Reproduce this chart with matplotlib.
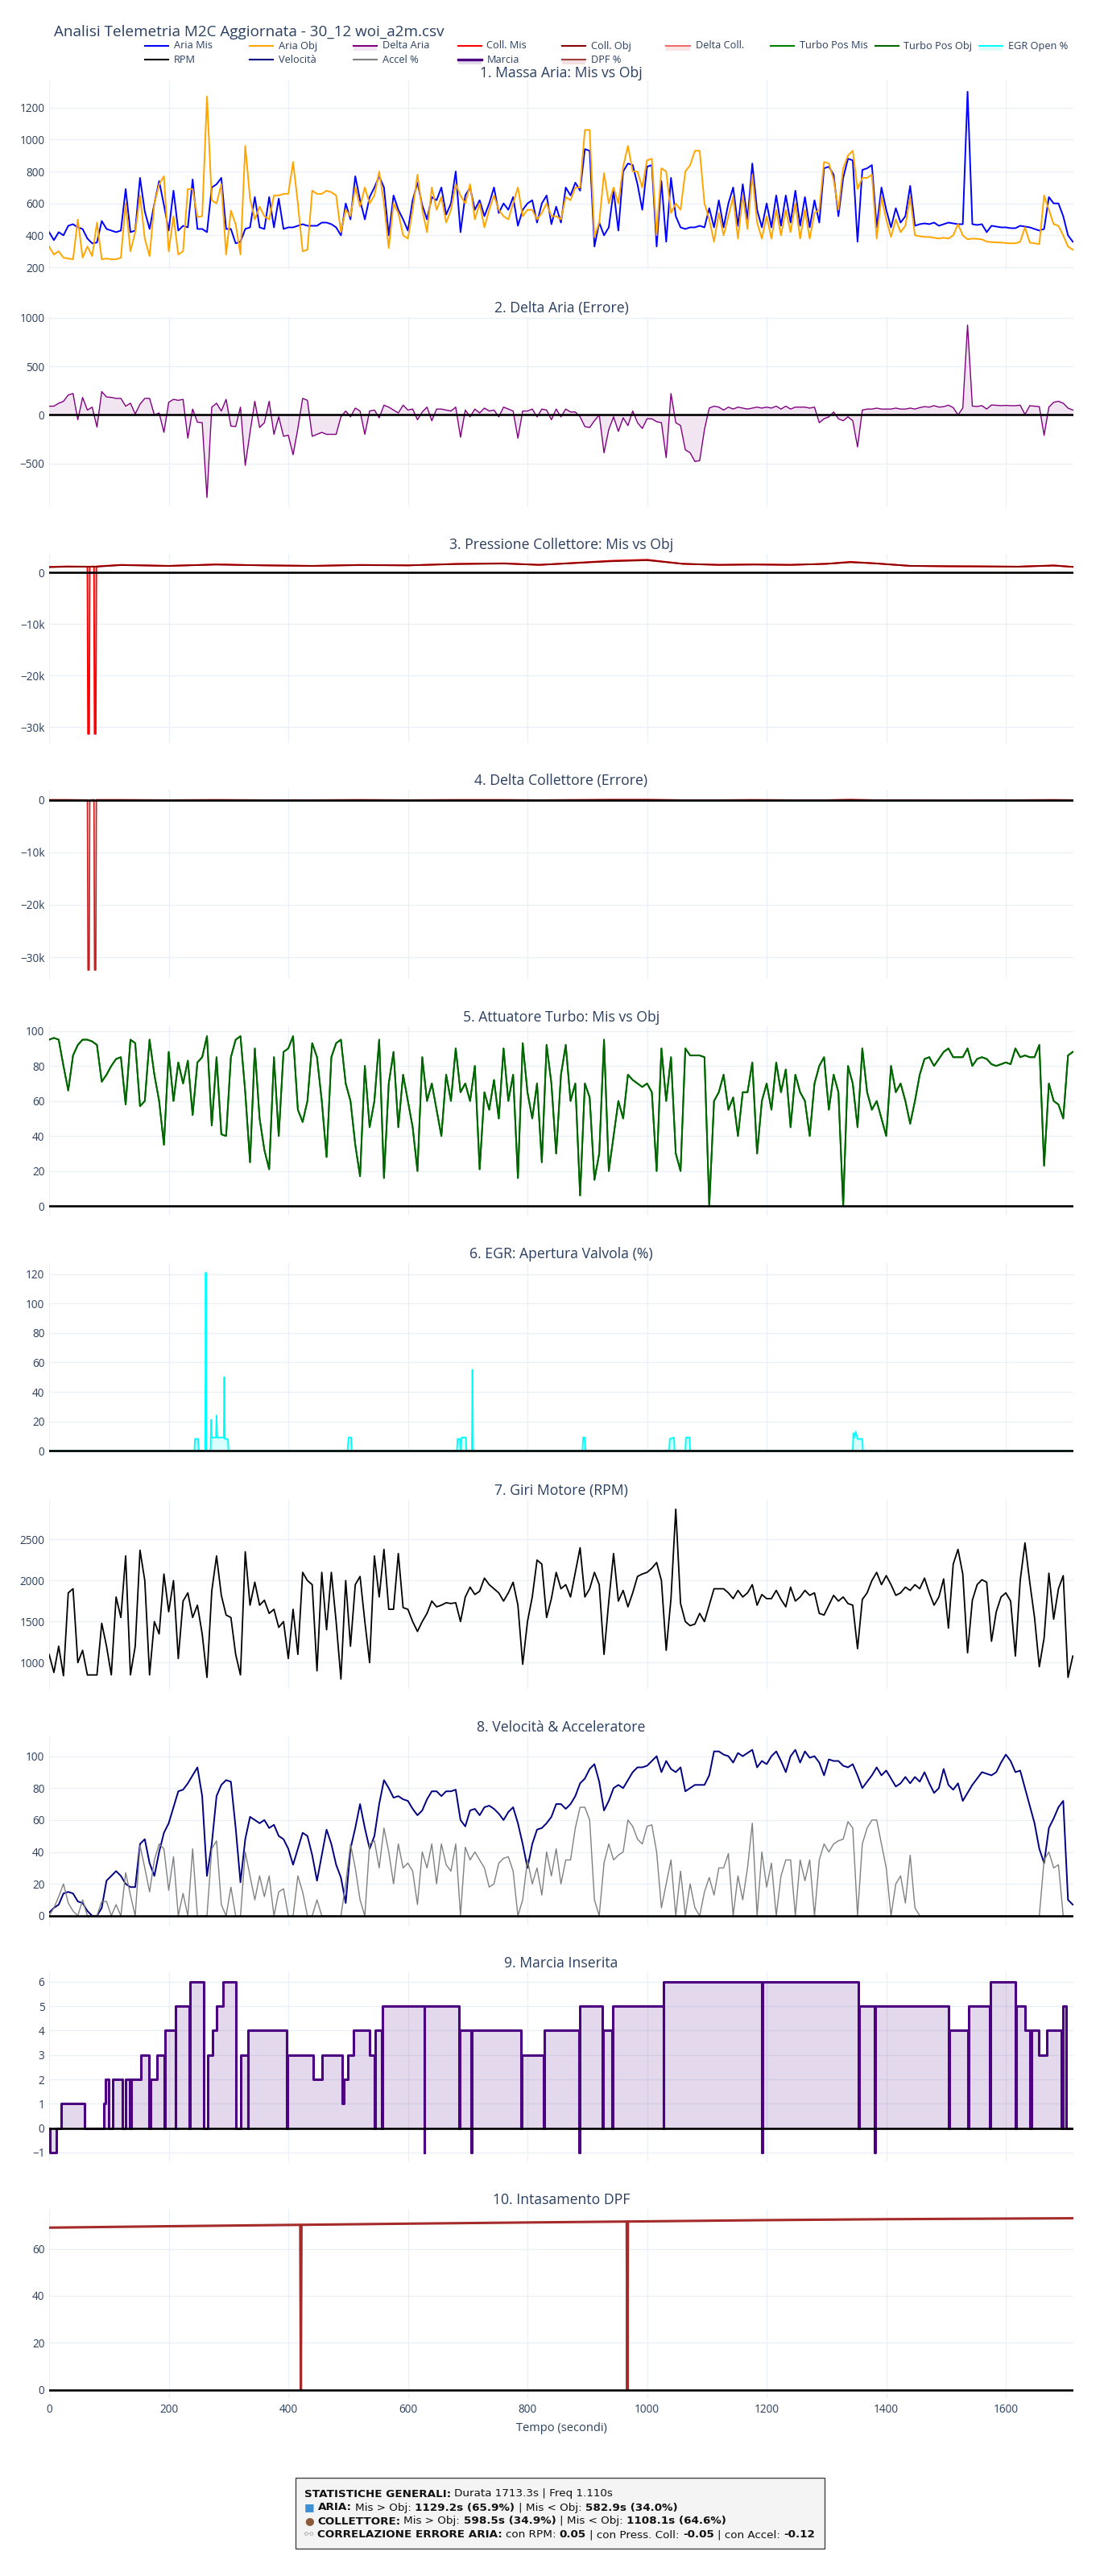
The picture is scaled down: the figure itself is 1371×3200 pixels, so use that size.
import numpy as np
import matplotlib
matplotlib.use("Agg")
import matplotlib.pyplot as plt
from matplotlib.lines import Line2D
from matplotlib.patches import Rectangle
from matplotlib.ticker import FuncFormatter, MultipleLocator, FixedLocator

# ---- dati (un campione ogni 8 s, righe da 200 s) ----
aria_mis = [
    420, 370, 420, 400, 460, 470, 450, 440, 380, 350, 355, 490, 440, 430, 420, 430, 690, 420, 430, 760, 550, 440, 600, 740, 590,
    430, 680, 430, 460, 450, 750, 440, 440, 420, 700, 720, 760, 440, 440, 350, 360, 440, 450, 640, 450, 440, 640, 450, 630, 440,
    450, 450, 460, 470, 460, 460, 460, 480, 480, 470, 450, 400, 600, 500, 770, 620, 500, 640, 700, 770, 700, 400, 650, 560, 500,
    430, 620, 730, 590, 500, 640, 620, 700, 530, 600, 800, 420, 650, 700, 560, 620, 520, 600, 700, 540, 600, 560, 640, 460, 560,
    600, 620, 480, 600, 650, 470, 580, 480, 700, 650, 730, 680, 940, 930, 330, 480, 400, 450, 680, 430, 800, 850, 840, 720, 560,
    830, 840, 330, 740, 360, 760, 520, 450, 440, 450, 450, 460, 450, 570, 450, 620, 450, 600, 700, 460, 720, 500, 850, 560, 450,
    600, 450, 650, 460, 650, 480, 680, 460, 640, 450, 620, 480, 820, 830, 780, 520, 760, 880, 870, 360, 810, 820, 840, 450, 700,
    560, 450, 570, 480, 520, 710, 460, 470, 475, 470, 480, 460, 470, 480, 475, 470, 470, 1300, 470, 465, 470, 420, 460, 455, 450,
    450, 445, 445, 460, 455, 450, 440, 430, 440, 640, 600, 600, 520, 400, 360,
]
aria_obj = [
    330, 280, 300, 260, 255, 250, 500, 260, 330, 270, 480, 250, 255, 250, 250, 260, 600, 300, 420, 650, 380, 270, 600, 720, 770,
    300, 520, 280, 300, 690, 690, 515, 520, 1270, 620, 600, 720, 280, 555, 470, 280, 960, 630, 500, 580, 520, 500, 650, 650, 660,
    660, 860, 600, 300, 310, 680, 660, 660, 680, 670, 650, 420, 560, 520, 700, 580, 700, 600, 650, 800, 600, 320, 600, 540, 400,
    380, 560, 780, 560, 420, 700, 560, 640, 480, 560, 720, 650, 600, 720, 500, 600, 450, 560, 650, 560, 520, 500, 600, 700, 520,
    560, 560, 500, 540, 600, 520, 520, 500, 640, 620, 700, 700, 1060, 1060, 390, 480, 790, 600, 700, 600, 830, 960, 800, 800, 700,
    870, 880, 400, 820, 800, 540, 600, 560, 800, 840, 930, 930, 600, 500, 360, 540, 400, 520, 640, 380, 650, 440, 780, 480, 380,
    520, 380, 560, 400, 560, 420, 600, 380, 560, 380, 540, 560, 860, 850, 750, 560, 820, 900, 930, 690, 760, 760, 780, 380, 640,
    500, 390, 500, 420, 460, 640, 400, 395, 390, 390, 385, 380, 385, 380, 400, 470, 400, 375, 380, 378, 375, 360, 358, 356, 355,
    352, 350, 350, 360, 450, 355, 350, 345, 650, 560, 470, 460, 400, 330, 310,
]
turbo_mis = [
    95, 96, 95, 80, 66, 86, 92, 95, 95, 94, 92, 71, 75, 80, 84, 85, 58, 95, 93, 57, 60, 95, 75, 60, 35,
    88, 60, 82, 70, 83, 52, 82, 85, 97, 46, 85, 41, 40, 85, 95, 97, 65, 25, 90, 50, 32, 21, 85, 40, 88,
    90, 97, 55, 48, 60, 93, 85, 60, 28, 85, 93, 95, 70, 60, 35, 17, 80, 45, 60, 95, 16, 70, 88, 45, 75,
    60, 45, 20, 85, 60, 70, 55, 40, 75, 60, 90, 65, 70, 60, 80, 21, 65, 55, 72, 50, 90, 60, 75, 16, 93,
    65, 50, 70, 25, 92, 70, 30, 75, 92, 60, 70, 6, 70, 62, 15, 30, 95, 20, 40, 60, 50, 75, 72, 70, 68,
    70, 65, 20, 90, 60, 85, 30, 20, 90, 86, 86, 86, 85, 0, 60, 65, 75, 55, 62, 40, 65, 65, 82, 30, 60,
    70, 55, 82, 65, 78, 45, 75, 65, 60, 40, 70, 80, 85, 55, 75, 65, 0, 80, 70, 45, 90, 65, 55, 60, 50,
    40, 80, 65, 70, 60, 47, 60, 75, 84, 85, 80, 84, 88, 90, 85, 85, 85, 90, 80, 84, 85, 84, 81, 80, 81,
    82, 81, 90, 85, 86, 85, 85, 92, 23, 70, 60, 58, 50, 86, 88,
]
turbo_obj = list(turbo_mis)  # nel grafico le due curve coincidono
rpm = [
    1100, 880, 1200, 840, 1850, 1900, 1000, 1150, 850, 850, 850, 1480, 1200, 850, 1800, 1550, 2300, 850, 1200, 2370, 2000, 850, 1500, 1350, 2080,
    1620, 2000, 1050, 1750, 1850, 1550, 1700, 1350, 820, 1870, 2300, 1820, 1580, 1550, 1100, 850, 2350, 1700, 1980, 1700, 1760, 1600, 1650, 1430, 1500,
    1050, 1650, 1100, 2100, 2000, 1950, 900, 2100, 1400, 2100, 1500, 800, 2000, 1200, 1950, 2050, 1500, 1000, 2300, 1800, 2380, 1650, 1650, 2330, 1670,
    1650, 1500, 1380, 1500, 1600, 1750, 1680, 1700, 1730, 1720, 1730, 1500, 1800, 1920, 1830, 1870, 2030, 1950, 1900, 1850, 1750, 1850, 1980, 1700, 980,
    1500, 1800, 2250, 2200, 1550, 1780, 2100, 1900, 1950, 1800, 2100, 2400, 1800, 1900, 2100, 1950, 1100, 1750, 2330, 1750, 1880, 1680, 1850, 2050, 2080,
    2100, 2150, 2220, 2000, 1150, 1780, 2870, 1720, 1500, 1450, 1470, 1600, 1500, 1700, 1900, 1900, 1900, 1850, 1780, 1880, 1800, 1850, 1950, 1700, 1830,
    1780, 1780, 1880, 1770, 1680, 1920, 1750, 1800, 1880, 1820, 1850, 1600, 1580, 1700, 1820, 1750, 1800, 1720, 1700, 1170, 1770, 1850, 2000, 2100, 1950,
    2060, 1950, 1820, 1850, 1920, 1880, 1950, 1900, 2030, 1850, 1700, 1800, 2020, 1420, 2200, 2380, 2080, 1120, 1760, 1950, 2010, 1980, 1260, 1620, 1800,
    1850, 1750, 1080, 2000, 2460, 1980, 1550, 950, 1300, 2090, 1530, 1900, 2060, 820, 1080,
]
velocita = [
    2, 5, 7, 14, 15, 14, 9, 8, 3, 0, 0, 5, 22, 25, 28, 25, 20, 18, 18, 45, 48, 33, 25, 40, 52,
    58, 68, 78, 79, 83, 88, 93, 75, 25, 45, 75, 82, 85, 84, 55, 21, 48, 62, 60, 58, 60, 55, 57, 50, 48,
    42, 32, 42, 52, 50, 38, 22, 38, 54, 45, 32, 24, 8, 42, 55, 70, 55, 42, 50, 70, 85, 80, 74, 75, 73,
    72, 67, 63, 66, 73, 78, 78, 75, 78, 78, 79, 60, 56, 66, 67, 63, 68, 69, 67, 64, 60, 65, 68, 58, 45,
    30, 45, 54, 55, 58, 62, 70, 70, 67, 70, 75, 83, 86, 92, 95, 84, 66, 72, 80, 82, 80, 85, 90, 93, 93,
    94, 97, 100, 90, 97, 92, 90, 93, 78, 80, 82, 82, 82, 88, 103, 103, 101, 100, 96, 102, 100, 102, 104, 93, 97,
    95, 100, 103, 97, 90, 100, 104, 96, 103, 99, 100, 96, 88, 98, 97, 97, 94, 93, 95, 88, 80, 84, 88, 93, 88,
    91, 86, 81, 83, 87, 83, 87, 84, 90, 83, 77, 80, 92, 82, 79, 83, 72, 77, 82, 86, 90, 89, 88, 90, 96,
    101, 97, 90, 91, 80, 69, 58, 42, 33, 55, 61, 68, 72, 10, 7,
]
accel = [
    0, 5, 12, 20, 8, 3, 0, 10, 0, 0, 0, 9, 9, 0, 7, 0, 27, 13, 0, 44, 30, 15, 35, 45, 42,
    16, 37, 0, 14, 0, 42, 0, 0, 0, 42, 47, 7, 0, 18, 0, 0, 40, 25, 10, 25, 12, 25, 0, 15, 17,
    0, 0, 25, 15, 0, 0, 10, 0, 0, 0, 0, 0, 20, 45, 30, 10, 0, 45, 47, 30, 55, 40, 20, 45, 30,
    33, 28, 7, 40, 30, 45, 20, 45, 32, 28, 45, 0, 43, 35, 40, 35, 30, 18, 20, 33, 36, 37, 28, 0, 10,
    35, 20, 30, 13, 40, 25, 42, 20, 35, 35, 55, 68, 68, 60, 10, 0, 33, 45, 35, 38, 40, 60, 56, 48, 45,
    56, 57, 40, 5, 20, 35, 0, 28, 0, 20, 5, 0, 15, 24, 13, 30, 30, 39, 0, 25, 10, 30, 58, 0, 40,
    18, 33, 0, 25, 35, 35, 0, 35, 22, 35, 0, 35, 45, 40, 45, 47, 48, 59, 55, 0, 45, 55, 60, 60, 45,
    30, 0, 20, 25, 8, 38, 5, 0, 0, 0, 0, 0, 0, 0, 0, 0, 0, 0, 0, 0, 0, 0, 0, 0, 0,
    0, 0, 0, 0, 0, 0, 0, 0, 35, 40, 30, 32, 0, 0, 0,
]

# pressione collettore (campioni irregolari)
coll_t = [0, 30, 64, 65, 67, 68, 75, 76, 78, 79, 120, 200, 280, 360, 440, 520, 600, 680, 760, 820, 880, 940,
          1000, 1060, 1120, 1180, 1240, 1300, 1340, 1380, 1440, 1500, 1560, 1620, 1680, 1713]
coll_mis = [1100, 1200, 1150, -31300, -31300, 1150, 1200, -31300, -31300, 1200, 1500, 1300, 1600, 1400, 1300, 1500,
            1400, 1700, 1800, 1500, 1900, 2300, 2500, 1700, 1500, 1600, 1500, 1700, 2100, 1800, 1300, 1200, 1200,
            1150, 1400, 1100]
coll_obj = [1050, 1150, 1150, 1150, 1150, 1150, 1150, 1150, 1150, 1150, 1450, 1300, 1550, 1400, 1300, 1450,
            1400, 1650, 1750, 1500, 1850, 2200, 2400, 1700, 1500, 1550, 1500, 1700, 2000, 1800, 1300, 1250, 1200,
            1150, 1350, 1100]

# EGR: apertura valvola
egr_t = [0, 243, 244, 249, 250, 261, 262, 263, 270, 271, 272, 279, 280, 281, 288, 292, 293, 294, 299, 300,
         499, 500, 501, 505, 506, 682, 683, 687, 688, 690, 691, 697, 698, 707, 708, 709, 892, 893, 896, 897,
         1037, 1038, 1045, 1046, 1064, 1065, 1071, 1072, 1344, 1345, 1347, 1349, 1352, 1356, 1360, 1361, 1713]
egr_v = [0, 0, 8, 8, 0, 0, 121, 0, 0, 21, 9, 9, 24, 9, 9, 9, 50, 8, 8, 0,
         0, 5, 9, 9, 0, 0, 8, 8, 0, 9, 9, 9, 0, 0, 55, 0, 0, 9, 9, 0,
         0, 8, 9, 0, 0, 9, 9, 0, 0, 12, 9, 13, 8, 8, 8, 0, 0]

# marcia inserita (istante di inizio, marcia)
gear_t = [0, 2, 12, 20, 59, 91, 94, 100, 106, 122, 128, 134, 137, 153, 167, 170, 181, 193, 194, 211, 212, 234,
          235, 258, 265, 273, 280, 291, 312, 320, 332, 333, 397, 398, 442, 456, 490, 493, 500, 509, 536, 544,
          545, 556, 557, 627, 628, 686, 687, 706, 707, 789, 790, 827, 828, 886, 887, 925, 926, 942, 943, 1027,
          1028, 1192, 1193, 1354, 1355, 1381, 1382, 1504, 1505, 1537, 1538, 1573, 1574, 1616, 1617, 1632, 1640,
          1643, 1655, 1669, 1693, 1696, 1701, 1713]
gear_v = [0, -1, 0, 1, 0, 1, 2, 0, 2, 0, 2, 0, 2, 3, 0, 2, 3, 0, 4, 0, 5, 0,
          6, 0, 3, 4, 5, 6, 0, 3, 0, 4, 0, 3, 2, 3, 1, 2, 3, 4, 3, 0,
          4, 0, 5, -1, 5, 0, 4, -1, 4, 0, 3, 0, 4, -1, 5, 0, 4, 0, 5, 0,
          6, -1, 6, 0, 5, -1, 5, 0, 4, 0, 5, 0, 6, 0, 5, 4, 0,
          4, 3, 4, 0, 5, 0, 0]

# intasamento DPF
dpf_t = [0, 200, 420, 421, 422, 600, 800, 966, 967, 968, 1200, 1400, 1713]
dpf_v = [69.0, 69.6, 70.2, 0, 70.2, 70.7, 71.2, 71.6, 0, 71.6, 72.2, 72.6, 73.0]

titles = ['1. Massa Aria: Mis vs Obj', '2. Delta Aria (Errore)', '3. Pressione Collettore: Mis vs Obj',
          '4. Delta Collettore (Errore)', '5. Attuatore Turbo: Mis vs Obj', '6. EGR: Apertura Valvola (%)',
          '7. Giri Motore (RPM)', '8. Velocità & Acceleratore', '9. Marcia Inserita', '10. Intasamento DPF']

# ---- figura ----
plt.rcParams['font.family'] = ['Open Sans', 'DejaVu Sans']
W, H = 1371, 3200
TXT = '#2a3f5f'
GRID = '#ebf0f8'
fig = plt.figure(figsize=(W / 100, H / 100), dpi=100)

left_px, right_px = 61, 1333
top0, step, ph = 100, 293.8, 235
tops = [top0 + step * i for i in range(10)]
axes = [fig.add_axes([left_px / W, 1 - (tp + ph) / H, (right_px - left_px) / W, ph / H]) for tp in tops]

t8 = np.arange(len(aria_mis)) * 8.0
mis = np.array(aria_mis, float)
obj = np.array(aria_obj, float)
delta_aria = mis - obj
delta_coll = np.array(coll_mis, float) - np.array(coll_obj, float)

ax = axes[0]
ax.plot(t8, aria_mis, color='#0000ff', lw=1.4)
ax.plot(t8, aria_obj, color='#ffa500', lw=1.4)

ax = axes[1]
ax.fill_between(t8, delta_aria, 0, color='purple', alpha=0.1, lw=0)
ax.plot(t8, delta_aria, color='purple', lw=1.0)

ax = axes[2]
ax.plot(coll_t, coll_mis, color='red', lw=1.4)
ax.plot(coll_t, coll_obj, color='darkred', lw=1.4)

ax = axes[3]
ax.fill_between(coll_t, delta_coll, 0, color='red', alpha=0.1, lw=0)
ax.plot(coll_t, delta_coll, color='#c81e1e', lw=1.2)

ax = axes[4]
ax.plot(t8, turbo_mis, color='green', lw=1.4)
ax.plot(t8, turbo_obj, color='darkgreen', lw=1.4)

ax = axes[5]
ax.fill_between(egr_t, egr_v, 0, color='cyan', alpha=0.15, lw=0)
ax.plot(egr_t, egr_v, color='cyan', lw=1.4)

ax = axes[6]
ax.plot(t8, rpm, color='black', lw=1.3)

ax = axes[7]
ax.plot(t8, velocita, color='navy', lw=1.4)
ax.plot(t8, accel, color='gray', lw=1.0)

ax = axes[8]
ax.fill_between(gear_t, gear_v, 0, step='post', color='indigo', alpha=0.15, lw=0)
ax.step(gear_t, gear_v, where='post', color='indigo', lw=2.2)

ax = axes[9]
ax.plot(dpf_t, dpf_v, color='#a52a2a', lw=2.2)

kfmt = FuncFormatter(lambda v, p: '0' if v == 0 else f'{v / 1000:.0f}k'.replace('-', '\u2212'))
ylims = [(185, 1370), (-940, 1008), (-33000, 3700), (-34200, 1900), (-5.5, 102.5),
         (-1, 127.5), (682, 2987), (-5.9, 112.6), (-1.38, 6.38), (-3.6, 76.9)]
yloc = [MultipleLocator(200), MultipleLocator(500), FixedLocator([-30000, -20000, -10000, 0]),
        FixedLocator([-30000, -20000, -10000, 0]), MultipleLocator(20), MultipleLocator(20),
        FixedLocator([1000, 1500, 2000, 2500]), MultipleLocator(20), MultipleLocator(1), MultipleLocator(20)]

for i, ax in enumerate(axes):
    ax.axhline(0, color='black', lw=1.9, zorder=6)
    ax.set_xlim(0, 1713)
    ax.set_ylim(*ylims[i])
    ax.xaxis.set_major_locator(MultipleLocator(200))
    ax.yaxis.set_major_locator(yloc[i])
    if i in (2, 3):
        ax.yaxis.set_major_formatter(kfmt)
    ax.grid(True, color=GRID, lw=1)
    ax.set_axisbelow(True)
    for s in ax.spines.values():
        s.set_visible(False)
    ax.tick_params(length=0, labelsize=9.8, labelcolor=TXT, pad=4)
    ax.tick_params(axis='x', labelbottom=(i == 9), pad=5)
    ty = tops[i] - (9 if i == 0 else 11)
    fig.text(697 / W, 1 - ty / H, titles[i], ha='center', va='center', fontsize=12.7, color=TXT)

fig.text(697 / W, 1 - 3016 / H, 'Tempo (secondi)', ha='center', va='center', fontsize=10.5, color=TXT)
fig.text(67 / W, 1 - 40 / H, 'Analisi Telemetria M2C Aggiornata - 30_12 woi_a2m.csv',
         ha='left', va='center', fontsize=13.6, color=TXT)

# ---- legenda (due righe come nell'originale) ----
row_a = [('Aria Mis', '#0000ff', None), ('Aria Obj', '#ffa500', None), ('Delta Aria', 'purple', '#f2e5f2'),
         ('Coll. Mis', 'red', None), ('Coll. Obj', 'darkred', None), ('Delta Coll.', '#ef6b6b', '#fde5e5'),
         ('Turbo Pos Mis', 'green', None), ('Turbo Pos Obj', 'darkgreen', None), ('EGR Open %', 'cyan', '#e0fbfb')]
row_b = [('RPM', 'black', None), ('Velocità', 'navy', None), ('Accel %', 'gray', None),
         ('Marcia', 'indigo', '#e4dcec'), ('DPF %', '#a04040', '#f3e0e0')]
for row, ypx in ((row_a, 57), (row_b, 74)):
    for k, (lab, col, fillc) in enumerate(row):
        x0 = 180 + 129.5 * k
        if fillc:
            fig.patches.append(Rectangle((x0 / W, 1 - (ypx + 6) / H), 29 / W, 6 / H,
                                         transform=fig.transFigure, facecolor=fillc, edgecolor='none'))
        fig.add_artist(Line2D([x0 / W, (x0 + 29) / W], [1 - ypx / H] * 2, color=col,
                              lw=2.4 if lab == 'Marcia' else 1.5, transform=fig.transFigure))
        fig.text((x0 + 36) / W, 1 - ypx / H, lab, ha='left', va='center', fontsize=9.2, color=TXT)

# ---- riquadro statistiche ----
fig.patches.append(Rectangle((367 / W, 1 - 3166 / H), (1024 - 367) / W, (3166 - 3078) / H,
                             transform=fig.transFigure, facecolor='#f4f4f4', edgecolor='#444444', lw=1))
renderer = fig.canvas.get_renderer()
fs = 9.7
space_px = fs * 100 / 72 * 0.318


def rich_line(x_px, y_px, parts):
    x = x_px
    for txt, bold, col in parts:
        lead = len(txt) - len(txt.lstrip(' '))
        trail = len(txt) - len(txt.rstrip(' '))
        x += lead * space_px
        t = fig.text(x / W, 1 - y_px / H, txt.strip(' '), fontsize=fs, color=col, va='center', ha='left',
                     fontweight='bold' if bold else 'normal', family=['DejaVu Sans'])
        x += t.get_window_extent(renderer).width + trail * space_px


K = '#111111'
rich_line(378, 3098, [('STATISTICHE GENERALI:', True, K), (' Durata 1713.3s | Freq 1.110s', False, K)])
rich_line(378, 3115, [('\u25a0 ', False, '#3d8fd6'), ('ARIA:', True, K), (' Mis > Obj: ', False, K),
                      ('1129.2s (65.9%)', True, K), (' | Mis < Obj: ', False, K), ('582.9s (34.0%)', True, K)])
rich_line(378, 3132, [('\u25cf ', False, '#8a5a3c'), ('COLLETTORE:', True, K), (' Mis > Obj: ', False, K),
                      ('598.5s (34.9%)', True, K), (' | Mis < Obj: ', False, K), ('1108.1s (64.6%)', True, K)])
rich_line(378, 3149, [('\u26af ', False, '#b0b0b0'), ('CORRELAZIONE ERRORE ARIA:', True, K), (' con RPM: ', False, K),
                      ('0.05', True, K), (' | con Press. Coll: ', False, K), ('-0.05', True, K),
                      (' | con Accel: ', False, K), ('-0.12', True, K)])

fig.savefig('out.png', dpi=100)
